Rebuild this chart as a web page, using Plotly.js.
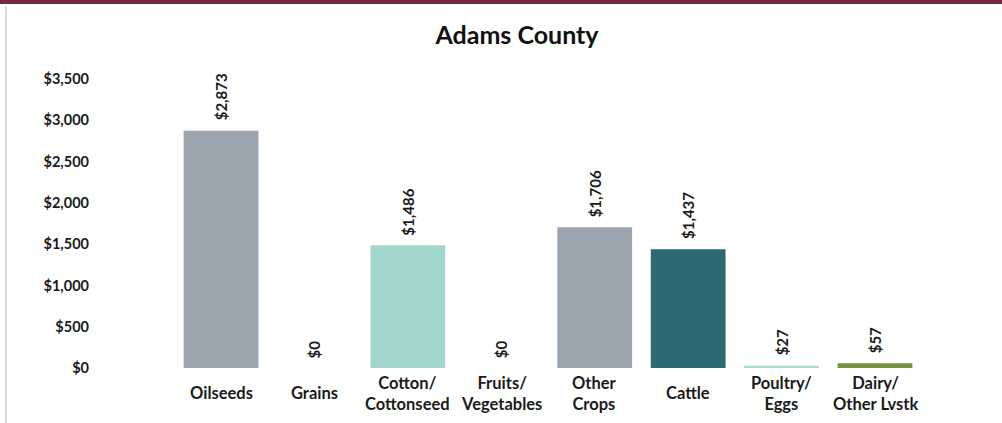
<!DOCTYPE html>
<html>
<head>
<meta charset="utf-8">
<script src="https://cdn.plot.ly/plotly-3.0.1.min.js"></script>
<style>
html,body{margin:0;padding:0;background:#fff;}
#chart{width:1002px;height:423px;}
</style>
</head>
<body>
<div id="chart"></div>
<script>
// Data
const categories = ["Oilseeds", "Grains", "Cotton/Cottonseed", "Fruits/Vegetables", "Other Crops", "Cattle", "Poultry/Eggs", "Dairy/Other Lvstk"];
const categoryLabels = ["Oilseeds", "Grains", "Cotton/<br>Cottonseed", "Fruits/<br>Vegetables", "Other<br>Crops", "Cattle", "Poultry/<br>Eggs", "Dairy/<br>Other Lvstk"];
const values = [2873, 0, 1486, 0, 1706, 1437, 27, 57];
const valueLabels = ["$2,873", "$0", "$1,486", "$0", "$1,706", "$1,437", "$27", "$57"];
const barColors = ["#9aa5af", "#9aa5af", "#a2d5cb", "#a2d5cb", "#9aa5af", "#2b6a70", "#a9dbd3", "#76923c"];
const yTickVals = [0, 500, 1000, 1500, 2000, 2500, 3000, 3500];
const yTickText = ["$0", "$500", "$1,000", "$1,500", "$2,000", "$2,500", "$3,000", "$3,500"];

const FONT = "Lato, 'Open Sans', sans-serif";

const W = 1002, H = 423;
const mL = 95, mR = 81, mT = 79, mB = 55;
const plotW = W - mL - mR;
const spacing = 93.43;
const rangeStart = -0.5 - (174.3 - mL) / spacing;
const rangeEnd = rangeStart + plotW / spacing;

const trace = {
  type: "bar",
  x: categories,
  y: values,
  marker: {color: barColors},
  hoverinfo: "skip"
};

const annotations = [];
categories.forEach((c, i) => {
  annotations.push({
    x: c, y: values[i], xref: "x", yref: "y",
    text: "<b>" + valueLabels[i] + "</b>",
    textangle: -90, showarrow: false,
    xanchor: "center", yanchor: "bottom", yshift: 8,
    font: {family: FONT, size: 15, color: "#1a1a1a"}
  });
  annotations.push({
    x: c, y: -0.087, xref: "x", yref: "paper",
    text: "<b>" + categoryLabels[i] + "</b>",
    showarrow: false, xanchor: "center", yanchor: "middle",
    font: {family: FONT, size: 16.5, color: "#1a1a1a"}
  });
});

const toPx = px => (px - mL) / plotW;
const toPy = py => (H - mB - py) / (H - mT - mB);

const layout = {
  width: W, height: H,
  margin: {l: mL, r: mR, t: mT, b: mB, pad: 0},
  paper_bgcolor: "#ffffff",
  plot_bgcolor: "#ffffff",
  title: {text: "<b>Adams County</b>", x: toPx(517), xref: "paper", xanchor: "center", y: 1 - 35 / H, yanchor: "middle",
          font: {family: FONT, size: 25, color: "#111"}},
  showlegend: false,
  bargap: 0.2,
  xaxis: {
    type: "category", categoryorder: "array", categoryarray: categories,
    range: [rangeStart, rangeEnd], showticklabels: false, showgrid: false,
    zeroline: false, showline: false, ticks: "", fixedrange: true
  },
  yaxis: {
    range: [0, 3500], tickvals: yTickVals, ticktext: yTickText,
    showgrid: false, zeroline: false, showline: false, ticks: "",
    ticklabelstandoff: 5,
    tickfont: {family: FONT, size: 14.5, color: "#1a1a1a", weight: "bold"},
    fixedrange: true
  },
  annotations: annotations,
  shapes: [
    {type: "rect", xref: "paper", yref: "paper", x0: toPx(0), x1: toPx(W), y0: toPy(4), y1: toPy(0),
     fillcolor: "#722b3d", line: {width: 0}, layer: "above"},
    {type: "line", xref: "paper", yref: "paper", x0: toPx(6), x1: toPx(6), y0: toPy(423), y1: toPy(6),
     line: {color: "#d9d9d9", width: 2}}
  ]
};

Plotly.newPlot("chart", [trace], layout, {displayModeBar: false, staticPlot: true});
</script>
</body>
</html>
